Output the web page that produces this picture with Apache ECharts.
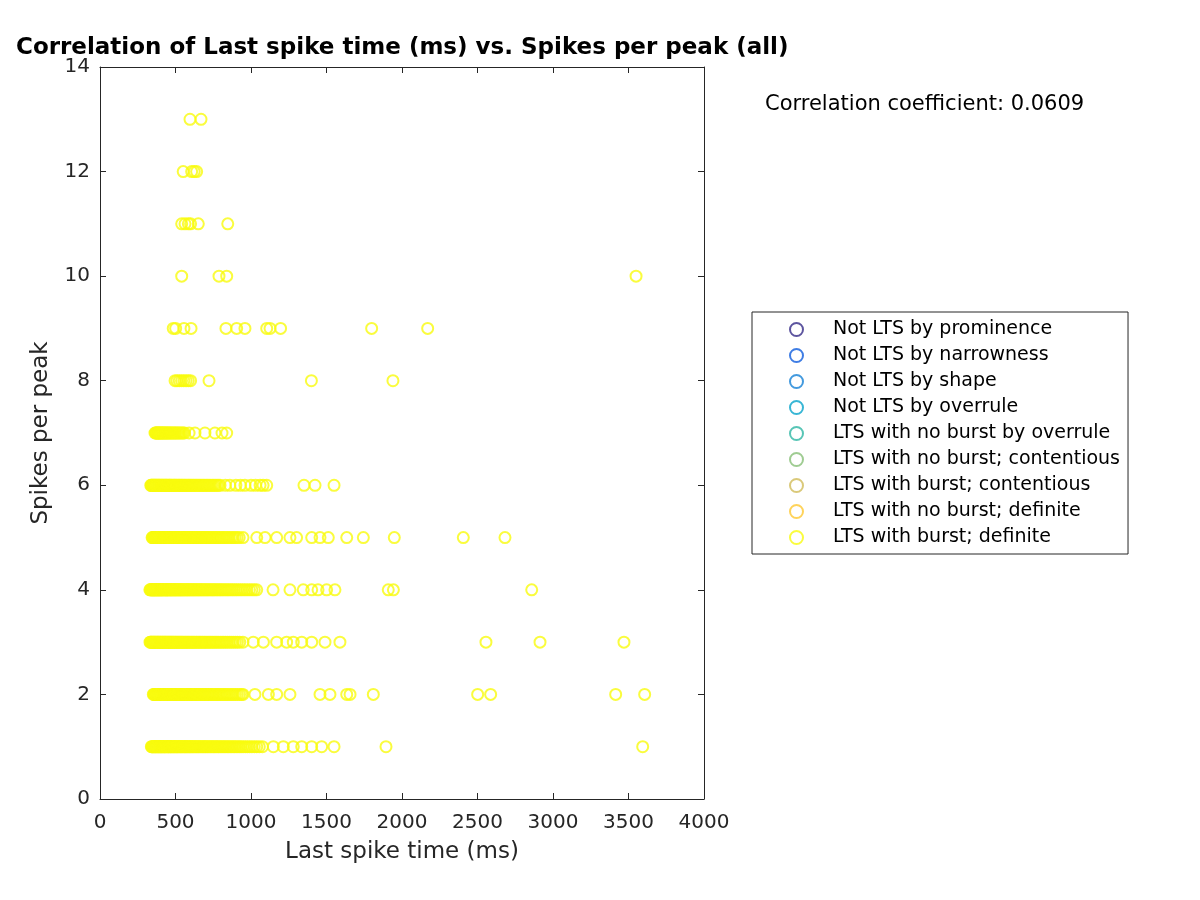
<!DOCTYPE html>
<html>
<head>
<meta charset="utf-8">
<script src="https://cdn.jsdelivr.net/npm/echarts@6/dist/echarts.min.js"></script>
<style>html,body{margin:0;padding:0;background:#fff}#c{width:1200px;height:900px}</style>
</head>
<body>
<div id="c"></div>
<script>
// Last spike time (ms) per spikes-per-peak level
const spikes1 = [340,343,347,351,354,358,362,366,369,373,377,381,385,389,392,396,400,404,408,412,416,420,424,428,432,436,440,445,449,453,457,462,466,470,475,479,484,488,493,497,502,507,511,516,521,526,531,536,541,546,551,557,562,567,573,578,584,590,595,601,607,613,619,625,632,638,645,651,658,665,672,679,686,693,700,708,715,723,731,739,747,755,763,771,780,788,797,806,815,824,833,843,852,862,872,882,892,902,913,924,935,948,962,976,991,1006,1022,1038,1055,1076,1148,1214,1280,1336,1402,1468,1550,1894,3594];
const spikes2 = [353,357,361,364,368,372,376,380,384,388,392,396,400,404,408,413,417,421,425,430,434,439,443,448,452,457,462,466,471,476,481,486,491,496,501,506,512,517,522,528,533,539,545,550,556,562,568,574,580,587,593,600,606,613,620,627,634,641,648,656,663,671,679,687,695,703,712,720,729,738,747,756,766,775,785,795,805,816,826,837,848,860,872,884,897,910,924,938,947,1026,1115,1170,1258,1457,1523,1634,1656,1810,2501,2587,3415,3607];
const spikes3 = [331,335,338,342,346,350,354,357,361,365,369,373,377,381,385,389,394,398,402,406,411,415,419,424,428,433,437,442,447,451,456,461,466,471,476,481,486,491,497,502,507,513,518,524,530,536,541,547,553,560,566,572,579,585,592,599,606,613,620,627,635,642,650,658,666,674,682,691,699,708,717,726,735,745,755,765,775,786,797,808,819,831,843,856,869,882,896,910,925,947,1015,1082,1170,1236,1280,1336,1402,1490,1589,2556,2914,3470];
const spikes4 = [330,334,337,341,345,349,352,356,360,364,368,372,376,380,384,388,392,396,401,405,409,413,418,422,427,431,436,440,445,450,454,459,464,469,474,479,484,489,494,500,505,510,516,521,527,533,538,544,550,556,562,569,575,581,588,594,601,608,615,622,629,636,643,651,658,666,674,682,690,698,707,715,724,733,742,751,760,770,780,790,800,810,821,832,843,854,866,878,890,903,916,930,944,959,974,990,1006,1022,1038,1146,1258,1346,1402,1444,1501,1556,1909,1943,2859];
const spikes5 = [345,349,352,356,360,363,367,371,375,379,383,387,391,395,399,403,408,412,416,420,425,429,434,438,443,447,452,457,462,467,471,476,481,487,492,497,502,508,513,519,524,530,536,542,548,554,560,566,573,579,586,592,599,606,613,620,628,635,643,650,658,666,674,683,691,700,709,718,727,736,746,756,766,776,786,797,808,819,831,843,855,868,881,894,908,922,947,1038,1093,1170,1258,1302,1402,1457,1512,1634,1744,1949,2406,2682];
const spikes6 = [336,340,343,347,351,355,358,362,366,370,374,378,382,386,390,394,398,403,407,411,415,420,424,429,433,438,442,447,452,457,461,466,471,476,482,487,492,497,503,508,514,520,525,531,537,543,549,556,562,568,575,582,588,595,602,609,617,624,632,639,647,655,663,671,680,688,697,706,715,724,734,744,754,764,775,785,795,830,860,900,930,960,1000,1030,1060,1080,1104,1351,1424,1550];
const spikes7 = [364,368,372,376,380,384,388,392,396,400,405,409,414,418,423,428,433,438,443,448,453,459,464,470,476,482,488,494,500,507,514,521,528,536,544,552,560,590,629,695,761,808,839];
const spikes8 = [497,510,525,540,555,570,585,600,722,1400,1940];
const spikes9 = [485,501,556,603,834,905,960,1104,1126,1196,1799,2170];
const spikes10 = [541,788,839,3550];
const spikes11 = [541,563,585,600,651,846];
const spikes12 = [551,607,624,640];
const spikes13 = [596,669];

const levels = [spikes1,spikes2,spikes3,spikes4,spikes5,spikes6,spikes7,spikes8,spikes9,spikes10,spikes11,spikes12,spikes13];

const legendNames = ['Not LTS by prominence','Not LTS by narrowness','Not LTS by shape','Not LTS by overrule','LTS with no burst by overrule','LTS with no burst; contentious','LTS with burst; contentious','LTS with no burst; definite','LTS with burst; definite'];
const legendColors = ['#352A87','#0F5CDD','#1481D6','#06A4CA','#2EB7A4','#87BF77','#D1BB59','#FEC832','#F9FB0E'];

const xTicks = [0, 4000, 500];
const yTicks = [0, 14, 2];
const corrText = 'Correlation coefficient: 0.0609';

const points = [];
levels.forEach((arr, i) => arr.forEach(x => points.push([x, i + 1])));

const FONT = 'DejaVu Sans';
const series = legendNames.map((name, i) => ({
  name: name,
  type: 'scatter',
  xAxisIndex: 0, yAxisIndex: 0,
  symbol: 'circle',
  symbolSize: 11,
  itemStyle: { color: 'rgba(255,255,255,0)', borderColor: legendColors[i], borderWidth: 2 },
  data: i === legendNames.length - 1 ? points : [],
  animation: false
}));

const chart = echarts.init(document.getElementById('c'), null, { renderer: 'canvas' });
const axisCommon = {
  axisLine: { show: true, onZero: false, lineStyle: { color: '#262626', width: 1 } },
  axisTick: { show: true, inside: true, length: 6, lineStyle: { color: '#262626' } },
  splitLine: { show: false }
};
chart.setOption({
  backgroundColor: '#fff',
  animation: false,
  textStyle: { fontFamily: FONT },
  title: {
    text: 'Correlation of Last spike time (ms) vs. Spikes per peak (all)',
    left: 16, top: 37, padding: 0,
    textStyle: { fontFamily: FONT, fontSize: 23, fontWeight: 'bold', color: '#000' }
  },
  grid: { left: 100, right: 496, top: 67, bottom: 101, containLabel: false },
  xAxis: [
    Object.assign({
      type: 'value', position: 'bottom', min: xTicks[0], max: xTicks[1], interval: xTicks[2],
      name: 'Last spike time (ms)', nameLocation: 'middle', nameGap: 42,
      nameTextStyle: { fontFamily: FONT, fontSize: 23, color: '#262626' },
      axisLabel: { fontFamily: FONT, fontSize: 20, color: '#262626', margin: 14, formatter: v => String(v) }
    }, axisCommon),
    Object.assign({
      type: 'value', position: 'top', min: xTicks[0], max: xTicks[1], interval: xTicks[2],
      axisLabel: { show: false }
    }, axisCommon)
  ],
  yAxis: [
    Object.assign({
      type: 'value', position: 'left', min: yTicks[0], max: yTicks[1], interval: yTicks[2],
      name: 'Spikes per peak', nameLocation: 'middle', nameGap: 47, nameRotate: 90,
      nameTextStyle: { fontFamily: FONT, fontSize: 23, color: '#262626' },
      axisLabel: { fontFamily: FONT, fontSize: 20, color: '#262626', margin: 10, padding: [3, 0, 0, 0] }
    }, axisCommon),
    Object.assign({
      type: 'value', position: 'right', min: yTicks[0], max: yTicks[1], interval: yTicks[2],
      axisLabel: { show: false }
    }, axisCommon)
  ],
  legend: {
    orient: 'vertical',
    left: 752, top: 312,
    padding: [8, 8, 7, 37],
    itemGap: 7,
    itemWidth: 13, itemHeight: 13,
    icon: 'circle',
    borderColor: '#262626', borderWidth: 1,
    backgroundColor: '#fff',
    selectedMode: false,
    textStyle: { fontFamily: FONT, fontSize: 19, color: '#000', padding: [0, 0, 0, 25] },
    data: legendNames.map((n, i) => ({ name: n, itemStyle: { color: '#fff', borderColor: legendColors[i], borderWidth: 2 } }))
  },
  graphic: [{
    type: 'text', left: 765, top: 94,
    style: { text: corrText, fontFamily: FONT, fontSize: 21, fill: '#000' }
  }],
  series: series
});
</script>
</body>
</html>
